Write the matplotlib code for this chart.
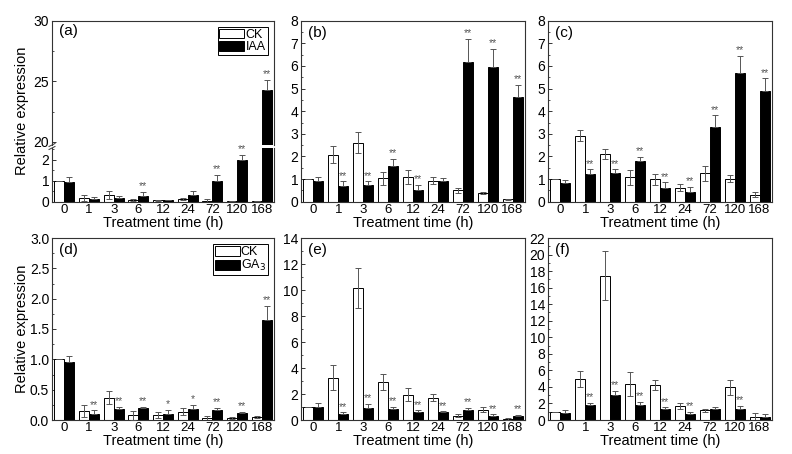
import numpy as np
import matplotlib
matplotlib.use('Agg')
import matplotlib.pyplot as plt
from matplotlib.ticker import MultipleLocator, AutoMinorLocator, FormatStrFormatter

plt.rcParams['font.family'] = ['Liberation Sans', 'DejaVu Sans']
plt.rcParams['font.size'] = 9

times = ['0', '1', '3', '6', '12', '24', '72', '120', '168']

# (a) IAA
a_ck = [1.0, 0.16, 0.32, 0.08, 0.06, 0.13, 0.03, 0.01, 0.03]
a_ck_err = [0.0, 0.14, 0.2, 0.05, 0.03, 0.06, 0.08, 0.0, 0.0]
a_trt = [0.92, 0.11, 0.17, 0.27, 0.06, 0.32, 1.0, 1.98, 24.3]
a_trt_err = [0.24, 0.13, 0.1, 0.19, 0.03, 0.18, 0.27, 0.24, 0.8]
a_sig = ['', '', '', '**', '', '', '**', '**', '**']

# (b) IAA
b_ck = [1.0, 2.07, 2.6, 1.03, 1.1, 0.93, 0.5, 0.37, 0.1]
b_ck_err = [0.0, 0.38, 0.46, 0.27, 0.31, 0.14, 0.1, 0.05, 0.03]
b_trt = [0.9, 0.68, 0.76, 1.56, 0.51, 0.91, 6.19, 5.96, 4.61]
b_trt_err = [0.17, 0.22, 0.14, 0.34, 0.24, 0.12, 1.0, 0.8, 0.54]
b_sig = ['', '**', '**', '**', '**', '', '**', '**', '**']

# (c) IAA
c_ck = [1.0, 2.92, 2.1, 1.08, 0.99, 0.62, 1.25, 1.02, 0.31]
c_ck_err = [0.0, 0.23, 0.23, 0.33, 0.23, 0.16, 0.33, 0.17, 0.1]
c_trt = [0.82, 1.22, 1.25, 1.81, 0.59, 0.43, 3.31, 5.7, 4.9]
c_trt_err = [0.12, 0.21, 0.18, 0.18, 0.26, 0.23, 0.5, 0.75, 0.55]
c_sig = ['', '**', '**', '**', '**', '**', '**', '**', '**']

# (d) GA3
d_ck = [1.0, 0.154, 0.37, 0.077, 0.088, 0.14, 0.03, 0.035, 0.05]
d_ck_err = [0.0, 0.1, 0.1, 0.07, 0.05, 0.06, 0.04, 0.02, 0.016]
d_trt = [0.95, 0.094, 0.18, 0.19, 0.094, 0.18, 0.16, 0.11, 1.65]
d_trt_err = [0.11, 0.066, 0.04, 0.02, 0.07, 0.07, 0.04, 0.03, 0.23]
d_sig = ['', '**', '**', '**', '*', '*', '**', '**', '**']

# (e) GA3
e_ck = [1.0, 3.25, 10.16, 2.94, 1.95, 1.71, 0.33, 0.79, 0.1]
e_ck_err = [0.0, 0.97, 1.54, 0.62, 0.51, 0.26, 0.13, 0.21, 0.08]
e_trt = [1.0, 0.46, 0.95, 0.82, 0.64, 0.59, 0.77, 0.33, 0.33]
e_trt_err = [0.28, 0.13, 0.28, 0.2, 0.1, 0.08, 0.18, 0.11, 0.05]
e_sig = ['', '**', '**', '**', '**', '**', '**', '**', '**']

# (f) GA3
f_ck = [1.0, 4.97, 17.44, 4.32, 4.28, 1.66, 1.17, 3.96, 0.4]
f_ck_err = [0.0, 0.96, 2.96, 1.45, 0.6, 0.36, 0.16, 0.88, 0.49]
f_trt = [0.89, 1.78, 3.07, 1.82, 1.29, 0.77, 1.29, 1.33, 0.4]
f_trt_err = [0.31, 0.32, 0.48, 0.36, 0.24, 0.23, 0.28, 0.37, 0.33]
f_sig = ['', '**', '**', '**', '**', '**', '', '**', '']

W, H = 792, 454
EDGE = '#333333'
ECOL = '#555555'
TICK_FS = 10
LAB_FS = 10.5


def pos(l, t, r, b):
    return [l / W, 1 - b / H, (r - l) / W, (b - t) / H]


def style(ax, ymax, step, fmt=None):
    ax.set_xlim(-0.5, len(times) - 0.5)
    ax.set_ylim(0, ymax)
    ax.yaxis.set_major_locator(MultipleLocator(step))
    ax.yaxis.set_minor_locator(AutoMinorLocator(2))
    if fmt:
        ax.yaxis.set_major_formatter(FormatStrFormatter(fmt))
    ax.tick_params(axis='y', which='major', direction='in', length=3, width=0.7,
                   labelsize=TICK_FS, pad=2, color=EDGE)
    ax.tick_params(axis='y', which='minor', direction='in', length=1.5, width=0.6, color=EDGE)
    ax.tick_params(axis='x', length=0, labelsize=9.5, pad=1.5)
    for s in ax.spines.values():
        s.set_color(EDGE)
        s.set_linewidth(0.8)


def draw_bars(ax, ck, ck_err, trt, trt_err, sig, lim):
    x = np.arange(len(times))
    w = 0.4
    ax.bar(x - w / 2, ck, w, color='white', edgecolor='black', linewidth=0.7, zorder=2)
    ax.bar(x + w / 2, trt, w, color='black', edgecolor='black', linewidth=0.7, zorder=2)
    ax.errorbar(x - w / 2, ck, yerr=ck_err, fmt='none', ecolor=ECOL, elinewidth=0.7,
                capsize=2, capthick=0.7, zorder=3)
    ax.errorbar(x + w / 2, trt, yerr=[np.zeros(len(trt)), trt_err], fmt='none', ecolor=ECOL,
                elinewidth=0.7, capsize=2, capthick=0.7, zorder=3)
    for i in range(len(times)):
        top = trt[i] + trt_err[i]
        if sig[i] and top < lim:
            ax.annotate(sig[i], (x[i] + w / 2, top), xytext=(0, 0.5), textcoords='offset points',
                        ha='center', va='bottom', fontsize=7.5, color=ECOL)
    ax.set_xticks(x)
    ax.set_xticklabels(times)


def add_legend(ax, labels):
    leg = ax.legend(labels, loc='upper right', fontsize=9, frameon=True, fancybox=False,
                    edgecolor='black', framealpha=1, handlelength=2.0, handleheight=0.8,
                    handletextpad=0.1, borderpad=0.15, labelspacing=0.0, borderaxespad=0.5)
    leg.get_frame().set_linewidth(0.7)


fig = plt.figure(figsize=(W / 100, H / 100), dpi=100)

# panel (a): broken axis
ax_top = fig.add_axes(pos(52, 20.7, 274, 145))
ax_bot = fig.add_axes(pos(52, 148, 274, 201.7))
draw_bars(ax_top, a_ck, a_ck_err, a_trt, a_trt_err, a_sig, 30)
draw_bars(ax_bot, a_ck, a_ck_err, a_trt, a_trt_err, a_sig, 2.4)
style(ax_top, 30, 5)
ax_top.set_ylim(19.75, 30)
ax_top.set_yticks([20, 25, 30])
ax_top.spines['bottom'].set_visible(False)
ax_top.tick_params(axis='x', labelbottom=False)
style(ax_bot, 2.55, 1)
ax_bot.set_yticks([0, 1, 2])
ax_bot.spines['top'].set_visible(False)
ax_bot.set_xlabel('Treatment time (h)', fontsize=LAB_FS, labelpad=0)
ax_top.text(0.03, 0.97, '(a)', transform=ax_top.transAxes, fontsize=11, va='top', ha='left')
add_legend(ax_top, ['CK', 'IAA'])
# break marks on the left spine
for y0 in (145, 148):
    fy = 1 - y0 / H
    fig.add_artist(plt.Line2D([49 / W, 55 / W], [fy - 1.5 / H, fy + 1.5 / H],
                              color=EDGE, linewidth=0.7))
fig.text(22 / W, 1 - 111 / H, 'Relative expression', rotation=90, ha='center', va='center',
         fontsize=LAB_FS)

panels = [
    ((301, 20.7, 525, 201.7), '(b)', b_ck, b_ck_err, b_trt, b_trt_err, b_sig, 8, 1, None),
    ((548, 20.7, 772, 201.7), '(c)', c_ck, c_ck_err, c_trt, c_trt_err, c_sig, 8, 1, None),
    ((52, 238, 274, 420), '(d)', d_ck, d_ck_err, d_trt, d_trt_err, d_sig, 3.0, 0.5, '%.1f'),
    ((301, 238, 525, 420), '(e)', e_ck, e_ck_err, e_trt, e_trt_err, e_sig, 14, 2, None),
    ((548, 238, 772, 420), '(f)', f_ck, f_ck_err, f_trt, f_trt_err, f_sig, 22, 2, None),
]

for box, lab, ck, cke, trt, trte, sig, ymax, step, fmt in panels:
    ax = fig.add_axes(pos(*box))
    draw_bars(ax, ck, cke, trt, trte, sig, ymax)
    style(ax, ymax, step, fmt)
    ax.set_xlabel('Treatment time (h)', fontsize=LAB_FS, labelpad=0)
    ax.text(0.03, 0.97, lab, transform=ax.transAxes, fontsize=11, va='top', ha='left')
    if lab == '(d)':
        add_legend(ax, ['CK', 'GA$_3$'])
        fig.text(22 / W, 1 - 329 / H, 'Relative expression', rotation=90, ha='center',
                 va='center', fontsize=LAB_FS)

fig.savefig('out.png', dpi=100)
